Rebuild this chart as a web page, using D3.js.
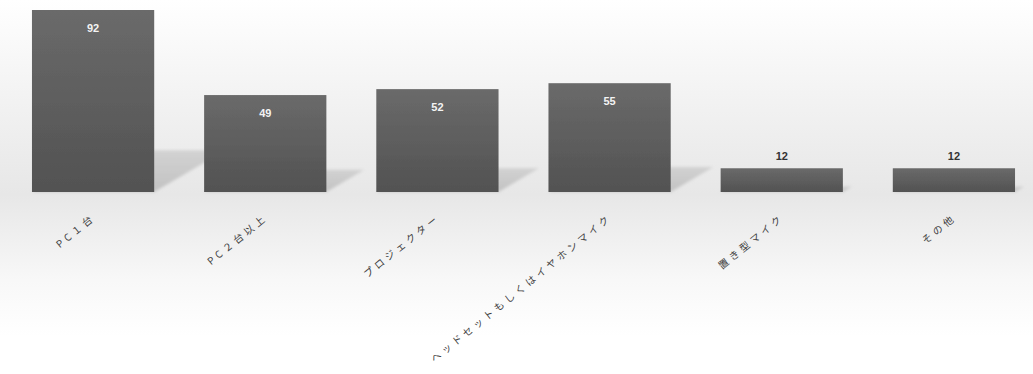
<!DOCTYPE html>
<html>
<head>
<meta charset="utf-8">
<script src="https://cdn.jsdelivr.net/npm/d3@7"></script>
<style>
  html, body { margin: 0; padding: 0; background: #fff; }
  svg { display: block; }
</style>
</head>
<body>
<div id="chart"></div>
<script>
// Equipment used (counts)
const categories = ["PC１台", "PC２台以上", "プロジェクター", "ヘッドセットもしくはイヤホンマイク", "置き型マイク", "その他"];
const values = [92, 49, 52, 55, 12, 12];

const W = 1033, H = 374;
const baseY = 192;

const svg = d3.select("#chart").append("svg")
  .attr("width", W).attr("height", H);

const defs = svg.append("defs");

// background: white at top, grey band at the floor line, white again below
const bg = defs.append("linearGradient").attr("id", "bg")
  .attr("x1", 0).attr("y1", 0).attr("x2", 0).attr("y2", 1);
[[0, "#ffffff"], [0.25, "#f3f3f3"], [0.52, "#e7e7e7"], [0.75, "#f8f8f8"], [0.9, "#ffffff"], [1, "#ffffff"]]
  .forEach(([o, c]) => bg.append("stop").attr("offset", o).attr("stop-color", c));

const barGrad = defs.append("linearGradient").attr("id", "barGrad")
  .attr("x1", 0).attr("y1", 0).attr("x2", 0).attr("y2", 1);
barGrad.append("stop").attr("offset", 0).attr("stop-color", "#6a6a6a");
barGrad.append("stop").attr("offset", 1).attr("stop-color", "#525252");

const shGrad = defs.append("linearGradient").attr("id", "shGrad")
  .attr("x1", 0).attr("y1", 1).attr("x2", 0).attr("y2", 0);
shGrad.append("stop").attr("offset", 0).attr("stop-color", "#c2c2c2");
shGrad.append("stop").attr("offset", 1).attr("stop-color", "#d2d2d2");

defs.append("filter").attr("id", "soft")
  .append("feGaussianBlur").attr("stdDeviation", 1.5);
defs.append("filter").attr("id", "edge")
  .append("feGaussianBlur").attr("stdDeviation", 0.6);

svg.append("rect").attr("width", W).attr("height", H).attr("fill", "url(#bg)");

const x = d3.scaleBand().domain(categories).range([7, 1040]).paddingInner(0.29).paddingOuter(0.145);
const y = d3.scaleLinear().domain([0, 92]).range([baseY, 10]);

// perspective floor shadows cast up and to the right
const shadow = d => {
  const x0 = x(d.c), x1 = x0 + x.bandwidth();
  const sh = (baseY - y(d.v)) * 0.23;
  const dx = sh * 1.7;
  return [[x0, baseY], [x1, baseY], [x1 + dx, baseY - sh], [x0 + dx, baseY - sh]];
};
const data = categories.map((c, i) => ({ c, v: values[i] }));

svg.append("g").attr("filter", "url(#soft)")
  .selectAll("polygon").data(data).join("polygon")
  .attr("points", d => shadow(d).map(p => p.join(",")).join(" "))
  .attr("fill", "url(#shGrad)");

svg.append("g").attr("filter", "url(#edge)")
  .selectAll("rect").data(data).join("rect")
  .attr("x", d => x(d.c))
  .attr("y", d => y(d.v))
  .attr("width", x.bandwidth())
  .attr("height", d => baseY - y(d.v))
  .attr("fill", "url(#barGrad)");

// value labels: inside the bar when tall enough, above it otherwise
svg.append("g").selectAll("text").data(data).join("text")
  .attr("x", d => x(d.c) + x.bandwidth() / 2)
  .attr("y", d => d.v > 20 ? y(d.v) + 22 : y(d.v) - 8)
  .attr("text-anchor", "middle")
  .attr("font-family", "'Liberation Sans', Arial, sans-serif")
  .attr("font-weight", "bold")
  .attr("font-size", 11)
  .attr("fill", d => d.v > 20 ? "#f4f4f4" : "#333")
  .text(d => d.v);

// rotated category labels
svg.append("g").selectAll("text").data(data).join("text")
  .attr("transform", d => `translate(${x(d.c) + x.bandwidth() / 2 + 3},${baseY + 27}) rotate(-39)`)
  .attr("text-anchor", "end")
  .attr("font-family", "'Noto Sans CJK JP', sans-serif")
  .attr("font-size", 10)
  .attr("letter-spacing", 3.5)
  .attr("fill", "#404040")
  .text(d => d.c);
</script>
</body>
</html>
